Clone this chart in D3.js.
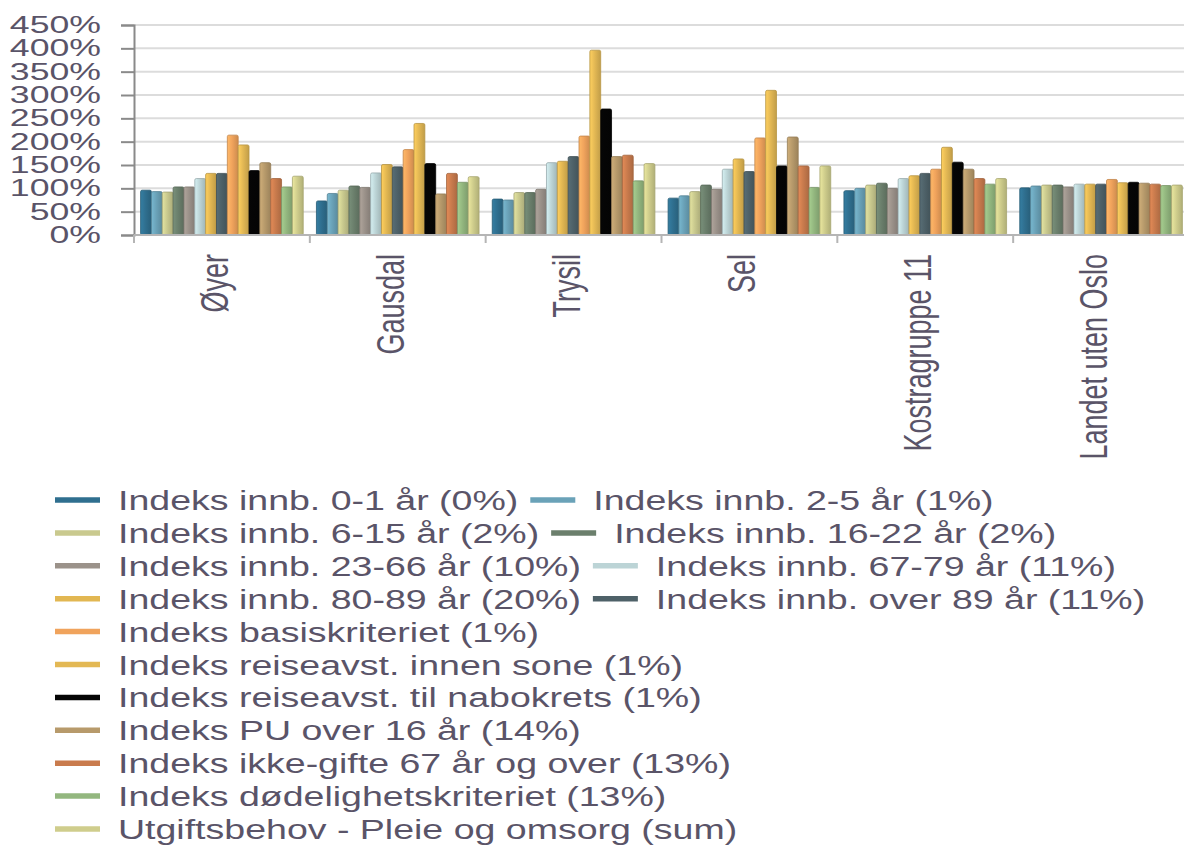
<!DOCTYPE html>
<html>
<head>
<meta charset="utf-8">
<script src="https://cdn.jsdelivr.net/npm/d3@7"></script>
<style>
  body { margin: 0; background: #fff; }
  svg { display: block; }
  text { font-family: "Liberation Sans", Arial, sans-serif; }
</style>
</head>
<body>
<script>
var W = 1184, H = 850;

var categories = ['Øyer', 'Gausdal', 'Trysil', 'Sel', 'Kostragruppe 11', 'Landet uten Oslo'];

var seriesNames = [
  'Indeks innb. 0-1 år (0%)',
  'Indeks innb. 2-5 år (1%)',
  'Indeks innb. 6-15 år (2%)',
  'Indeks innb. 16-22 år (2%)',
  'Indeks innb. 23-66 år (10%)',
  'Indeks innb. 67-79 år (11%)',
  'Indeks innb. 80-89 år (20%)',
  'Indeks innb. over 89 år (11%)',
  'Indeks basiskriteriet (1%)',
  'Indeks reiseavst. innen sone (1%)',
  'Indeks reiseavst. til nabokrets (1%)',
  'Indeks PU over 16 år (14%)',
  'Indeks ikke-gifte 67 år og over (13%)',
  'Indeks dødelighetskriteriet (13%)',
  'Utgiftsbehov - Pleie og omsorg (sum)'
];

var seriesColors = ['#2f6f8f', '#6aa2b8', '#c9c98e', '#6b7f6c', '#9b928a', '#bcd4d6', '#e2b752',
  '#4e6168', '#f0a35c', '#e3b854', '#050505', '#b79a6b', '#c97b4d', '#93b77f', '#cfcd8c'];

// values in percent, one array per category, series order as above
var oyer     = [96, 93, 92, 103, 103, 121, 132, 132, 214, 193, 138, 155, 121, 103, 126];
var gausdal  = [73, 89, 96, 105, 102, 133, 151, 146, 183, 239, 153, 88, 132, 113, 125];
var trysil   = [77, 75, 91, 91, 98, 155, 158, 168, 212, 396, 270, 168, 171, 116, 153];
var sel      = [79, 84, 93, 107, 98, 141, 163, 136, 208, 310, 148, 210, 148, 102, 148];
var kostra11 = [95, 100, 107, 111, 100, 121, 127, 132, 141, 188, 156, 141, 121, 109, 121];
var landet   = [101, 105, 107, 107, 103, 109, 109, 109, 119, 112, 113, 111, 109, 106, 107];

var yTicks = [0, 50, 100, 150, 200, 250, 300, 350, 400, 450];

var values = [oyer, gausdal, trysil, sel, kostra11, landet];

var textColor = '#5a5468';
var plotLeft = 134, plotRight = 1189, plotTop = 25, plotBottom = 235;

var svg = d3.select('body').append('svg')
  .attr('width', W)
  .attr('height', H);

var defs = svg.append('defs');
seriesColors.forEach(function(c, i) {
  var g = defs.append('linearGradient').attr('id', 'grad' + i)
    .attr('x1', 0).attr('x2', 1).attr('y1', 0).attr('y2', 0);
  var base = d3.color(c);
  g.append('stop').attr('offset', 0).attr('stop-color', base.brighter(0.35));
  g.append('stop').attr('offset', 0.45).attr('stop-color', base);
  g.append('stop').attr('offset', 1).attr('stop-color', base.darker(0.45));
});

var y = d3.scaleLinear().domain([0, 450]).range([plotBottom, plotTop]);

var x0 = d3.scaleBand().domain(categories).range([plotLeft, plotRight])
  .paddingInner(0.075).paddingOuter(0.0375);

var x1 = d3.scaleBand().domain(d3.range(seriesNames.length)).range([0, x0.bandwidth()]);

// gridlines
svg.append('g').selectAll('line')
  .data(yTicks.slice(1))
  .enter().append('line')
  .attr('x1', plotLeft).attr('x2', W)
  .attr('y1', function(d) { return y(d); })
  .attr('y2', function(d) { return y(d); })
  .attr('stroke', '#dcdcdc')
  .attr('stroke-width', 2);

// y axis
var yAxis = svg.append('g')
  .attr('transform', 'translate(' + plotLeft + ',0)')
  .call(d3.axisLeft(y).tickValues(yTicks).tickSize(13).tickFormat(function() { return ''; }));
yAxis.select('.domain').attr('stroke', '#8a8a8a').attr('stroke-width', 2);
yAxis.selectAll('.tick line').attr('stroke', '#8a8a8a').attr('stroke-width', 2);

svg.append('g').selectAll('g')
  .data(yTicks)
  .enter().append('g')
  .attr('transform', function(d) { return 'translate(101,' + (y(d) + 8) + ') scale(1.55,1)'; })
  .append('text')
  .attr('text-anchor', 'end')
  .attr('font-size', 23)
  .attr('fill', textColor)
  .text(function(d) { return d + '%'; });

// bars
var groups = svg.append('g').selectAll('g')
  .data(categories)
  .enter().append('g')
  .attr('transform', function(d) { return 'translate(' + x0(d) + ',0)'; });

groups.selectAll('rect')
  .data(function(d, ci) { return values[ci].map(function(v, si) { return { v: v, s: si }; }); })
  .enter().append('rect')
  .attr('x', function(d) { return x1(d.s); })
  .attr('width', x1.bandwidth())
  .attr('y', function(d) { return y(d.v); })
  .attr('height', function(d) { return plotBottom - y(d.v); })
  .attr('rx', 1.5)
  .attr('fill', function(d) { return 'url(#grad' + d.s + ')'; })
  .attr('stroke', function(d) { return d3.color(seriesColors[d.s]).darker(0.6); })
  .attr('stroke-width', 0.8);

// x axis
var xEdges = categories.map(function(c) { return x0(c) - x0.step() * x0.paddingOuter(); });
svg.append('line')
  .attr('x1', plotLeft).attr('x2', W)
  .attr('y1', plotBottom).attr('y2', plotBottom)
  .attr('stroke', '#b5b5b5').attr('stroke-width', 2);
svg.append('g').selectAll('line')
  .data(xEdges)
  .enter().append('line')
  .attr('x1', function(d) { return d; }).attr('x2', function(d) { return d; })
  .attr('y1', plotBottom).attr('y2', plotBottom + 8)
  .attr('stroke', '#b5b5b5').attr('stroke-width', 2);

svg.append('g').selectAll('g')
  .data(categories)
  .enter().append('g')
  .attr('transform', function(d) {
    return 'translate(' + (x0(d) + x0.bandwidth() / 2 + 6) + ',254) scale(1.45,1) rotate(-90)';
  })
  .append('text')
  .attr('text-anchor', 'end')
  .attr('font-size', 27)
  .attr('fill', textColor)
  .text(function(d) { return d; });

// legend (flowing rows)
var legend = svg.append('g');
var lx = 55, ly = 500, maxX = 1160, rowH = 32.9, sx = 1.34;
seriesNames.forEach(function(name, i) {
  var item = legend.append('g');
  var t = item.append('g')
    .attr('transform', 'translate(63,10) scale(' + sx + ',1)')
    .append('text')
    .attr('font-size', 28)
    .attr('fill', textColor)
    .text(name);
  var w = 63 + t.node().getComputedTextLength() * sx;
  if (lx > 55 && lx + w > maxX) {
    lx = 55;
    ly += rowH;
  }
  item.attr('transform', 'translate(' + lx + ',' + ly + ')');
  item.append('line')
    .attr('x1', 0).attr('x2', 45)
    .attr('y1', 0).attr('y2', 0)
    .attr('stroke', seriesColors[i])
    .attr('stroke-width', 5.5);
  lx += w + 12;
});
</script>
</body>
</html>
